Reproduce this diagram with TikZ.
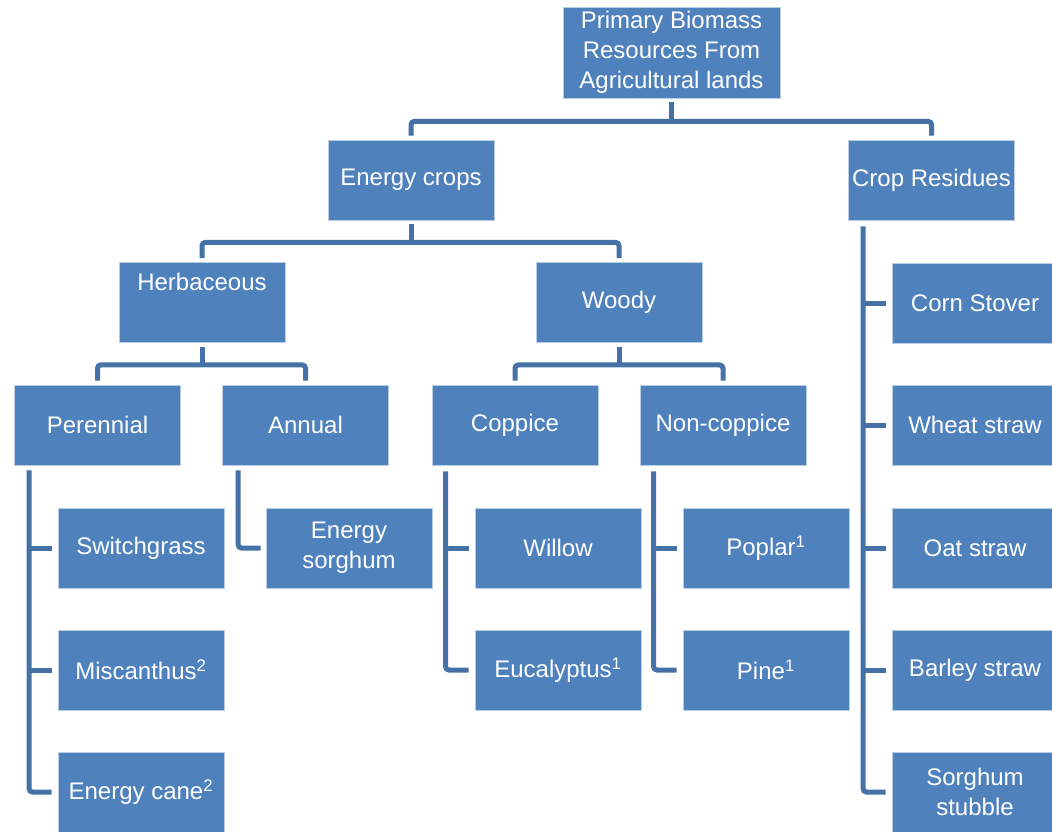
\documentclass[tikz,border=0pt]{standalone}
\usepackage{fontspec}
\setmainfont{Liberation Sans}
\usetikzlibrary{calc}
\definecolor{boxblue}{HTML}{4F81BD}
\definecolor{boxedge}{HTML}{B9CDE5}
\definecolor{linkblue}{HTML}{4571A6}
\tikzset{
  box/.style={rectangle, fill=boxblue, draw=boxedge, line width=0.6pt,
    minimum width=124.5pt, minimum height=60pt, inner sep=0pt,
    text=white, align=center, font=\fontsize{18}{22.5}\selectfont},
  lbl/.style={text=white, inner sep=0pt, font=\fontsize{18}{22.5}\selectfont},
  conn/.style={draw=linkblue, line width=3.75pt, rounded corners=2.5pt}
}
\begin{document}
\begin{tikzpicture}[x=0.75pt, y=-0.75pt]
\useasboundingbox (0,0) rectangle (1052,831);
% boxes
\node[box, minimum width=162.75pt, minimum height=68.25pt] (top) at (671.5,52.5) {Primary Biomass\\Resources From\\Agricultural lands};
\node[box] (energy) at (411,180) {Energy crops};
\node[box] (cropres) at (931.5,180) {Crop Residues};
\node[box] (herb) at (202,302.5) {};
\node[lbl] (herbt) at (202,282) {Herbaceous};
\node[box] (woody) at (619,302.5) {Woody};
\node[box] (per) at (97.5,425) {Perennial};
\node[box] (ann) at (305.5,425) {Annual};
\node[box] (cop) at (515,425) {Coppice};
\node[box] (ncop) at (723,425) {Non-coppice};
\node[box] (switch) at (141,548) {Switchgrass};
\node[box] (misc) at (141,670) {Miscanthus\textsuperscript{2}};
\node[box] (cane) at (141,792) {Energy cane\textsuperscript{2}};
\node[box] (sorg) at (349,548) {Energy\\sorghum};
\node[box] (willow) at (558,548) {Willow};
\node[box] (euc) at (558,670) {Eucalyptus\textsuperscript{1}};
\node[box] (poplar) at (766,548) {Poplar\textsuperscript{1}};
\node[box] (pine) at (766,670) {Pine\textsuperscript{1}};
\node[box] (corn) at (975,303) {Corn Stover};
\node[box] (wheat) at (975,425) {Wheat straw};
\node[box] (oat) at (975,548) {Oat straw};
\node[box] (barley) at (975,670) {Barley straw};
\node[box] (stub) at (975,792) {Sorghum\\stubble};
% tree connectors
\draw[conn] ($(top.south)+(0,4)$) -- ($(top.south)+(0,23)$);
\draw[conn] ($(energy.north)+(0,-4)$) |- ($(top.south)+(0,23)$) -| ($(cropres.north)+(0,-4)$);
\draw[conn] ($(energy.south)+(0,4)$) -- ($(energy.south)+(0,22)$);
\draw[conn] ($(herb.north)+(0,-4)$) |- ($(energy.south)+(0,22)$) -| ($(woody.north)+(0,-4)$);
\draw[conn] ($(herb.south)+(0,4)$) -- ($(herb.south)+(0,22)$);
\draw[conn] ($(per.north)+(0,-4)$) |- ($(herb.south)+(0,22)$) -| ($(ann.north)+(0,-4)$);
\draw[conn] ($(woody.south)+(0,4)$) -- ($(woody.south)+(0,22)$);
\draw[conn] ($(cop.north)+(0,-4)$) |- ($(woody.south)+(0,22)$) -| ($(ncop.north)+(0,-4)$);
% side connectors
\coordinate (pv) at ($(per.south west)+(15,5)$);
\draw[conn] (pv) |- ($(cane.west)+(-6,0)$);
\draw[conn] (pv |- switch.west) -- ($(switch.west)+(-6,0)$);
\draw[conn] (pv |- misc.west) -- ($(misc.west)+(-6,0)$);
\coordinate (av) at ($(ann.south west)+(16,5)$);
\draw[conn] (av) |- ($(sorg.west)+(-5,0)$);
\coordinate (cv) at ($(cop.south west)+(14,6)$);
\draw[conn] (cv) |- ($(euc.west)+(-6,0)$);
\draw[conn] (cv |- willow.west) -- ($(willow.west)+(-6,0)$);
\coordinate (nv) at ($(ncop.south west)+(14,6)$);
\draw[conn] (nv) |- ($(pine.west)+(-6,0)$);
\draw[conn] (nv |- poplar.west) -- ($(poplar.west)+(-6,0)$);
\coordinate (rv) at ($(cropres.south west)+(15,6)$);
\draw[conn] (rv) |- ($(stub.west)+(-6,0)$);
\draw[conn] (rv |- corn.west) -- ($(corn.west)+(-6,0)$);
\draw[conn] (rv |- wheat.west) -- ($(wheat.west)+(-6,0)$);
\draw[conn] (rv |- oat.west) -- ($(oat.west)+(-6,0)$);
\draw[conn] (rv |- barley.west) -- ($(barley.west)+(-6,0)$);
\end{tikzpicture}
\end{document}
